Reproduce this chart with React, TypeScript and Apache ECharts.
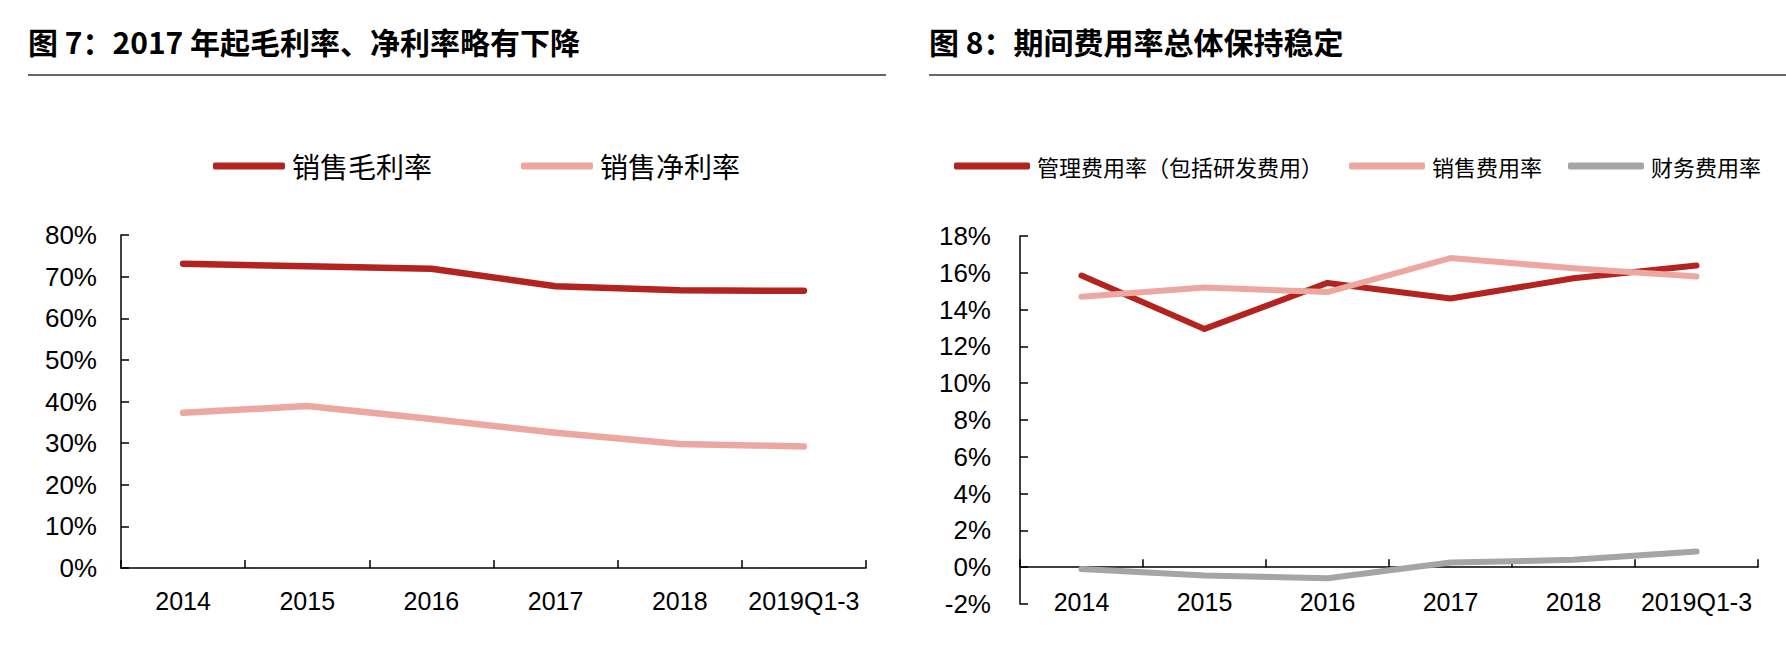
import React, { useEffect, useRef } from "react";
import * as echarts from "echarts";

const years = ["2014", "2015", "2016", "2017", "2018", "2019Q1-3"];
const grossMargin = [73.1, 72.5, 71.9, 67.7, 66.7, 66.6];
const netMargin = [37.3, 38.9, 35.8, 32.5, 29.8, 29.2];
const adminRate = [15.85, 12.95, 15.45, 14.6, 15.7, 16.4];
const sellingRate = [14.7, 15.2, 14.95, 16.8, 16.25, 15.8];
const financeRate = [-0.1, -0.45, -0.6, 0.25, 0.4, 0.85];

const leftNames = ["销售毛利率", "销售净利率"];
const rightNames = ["管理费用率（包括研发费用）", "销售费用率", "财务费用率"];
const titleLeft = "图 7：2017 年起毛利率、净利率略有下降";
const titleRight = "图 8：期间费用率总体保持稳定";

const RED = "#B3231F";
const PINK = "#ECA7A1";
const GRAY = "#A5A5A5";
const CJK = '"Noto Sans CJK SC", "Noto Sans", sans-serif';
const NUM = '"Liberation Sans", Arial, sans-serif';

function pct(v: number) {
  return v + "%";
}

export default function App() {
  const ref = useRef<HTMLDivElement>(null);
  useEffect(() => {
    if (!ref.current) return;
    const chart = echarts.init(ref.current, undefined, { renderer: "svg" });
    const axisLine = { show: true, onZero: true, lineStyle: { color: "#000", width: 1.5 } };
    const axisTick = { show: true, inside: true, length: 8, interval: 0, lineStyle: { color: "#000", width: 1.5 } };
    const line = (name: string, data: number[], color: string, xi: number, w: number) => ({
      name,
      type: "line",
      xAxisIndex: xi,
      yAxisIndex: xi,
      data,
      symbol: "none",
      color,
      itemStyle: { color },
      lineStyle: { color, width: w, cap: "round", join: "round" },
    });
    chart.setOption({
      animation: false,
      backgroundColor: "#fff",
      graphic: [
        {
          type: "text",
          left: 28,
          top: 26,
          style: { text: titleLeft, font: `bold 30px ${CJK}`, fill: "#000" },
        },
        {
          type: "text",
          left: 929,
          top: 26,
          style: { text: titleRight, font: `bold 30px ${CJK}`, fill: "#000" },
        },
        {
          type: "line",
          shape: { x1: 28, y1: 75, x2: 886, y2: 75 },
          style: { stroke: "#333", lineWidth: 1.5 },
        },
        {
          type: "line",
          shape: { x1: 929, y1: 75, x2: 1786, y2: 75 },
          style: { stroke: "#333", lineWidth: 1.5 },
        },
      ],
      legend: [
        {
          data: leftNames,
          left: 213,
          top: 152,
          padding: 0,
          itemWidth: 72,
          itemHeight: 7,
          itemGap: 89,
          icon: "roundRect",
          textStyle: { fontSize: 28, color: "#000", fontFamily: CJK, padding: [0, 0, 0, 2] },
        },
        {
          data: rightNames,
          left: 954,
          top: 155,
          padding: 0,
          itemWidth: 76,
          itemHeight: 7,
          itemGap: 26,
          icon: "roundRect",
          textStyle: { fontSize: 22, color: "#000", fontFamily: CJK, padding: [0, 0, 0, 2] },
        },
      ],
      grid: [
        { left: 121, top: 235, width: 745, height: 333 },
        { left: 1020, top: 236, width: 738, height: 368 },
      ],
      xAxis: [0, 1].map((i) => ({
        gridIndex: i,
        type: "category",
        data: years,
        boundaryGap: true,
        axisLine,
        axisTick,
        splitLine: { show: false },
        axisLabel: {
          color: "#000",
          fontSize: 25,
          margin: i === 0 ? 20 : -15,
          interval: 0,
          fontFamily: NUM,
        },
      })),
      yAxis: [
        {
          gridIndex: 0,
          type: "value",
          min: 0,
          max: 80,
          interval: 10,
          axisLine,
          axisTick,
          splitLine: { show: false },
          axisLabel: { color: "#000", fontSize: 26, margin: 24, fontFamily: NUM, formatter: pct },
        },
        {
          gridIndex: 1,
          type: "value",
          min: -2,
          max: 18,
          interval: 2,
          axisLine,
          axisTick,
          splitLine: { show: false },
          axisLabel: { color: "#000", fontSize: 26, margin: 29, fontFamily: NUM, formatter: pct },
        },
      ],
      series: [
        line(leftNames[0], grossMargin, RED, 0, 6.5),
        line(leftNames[1], netMargin, PINK, 0, 6.5),
        line(rightNames[0], adminRate, RED, 1, 6),
        line(rightNames[1], sellingRate, PINK, 1, 6),
        line(rightNames[2], financeRate, GRAY, 1, 6),
      ],
    });
    return () => chart.dispose();
  }, []);
  return (
    <div
      ref={ref}
      style={{ position: "absolute", left: 0, top: 0, width: 1786, height: 658 }}
    />
  );
}
